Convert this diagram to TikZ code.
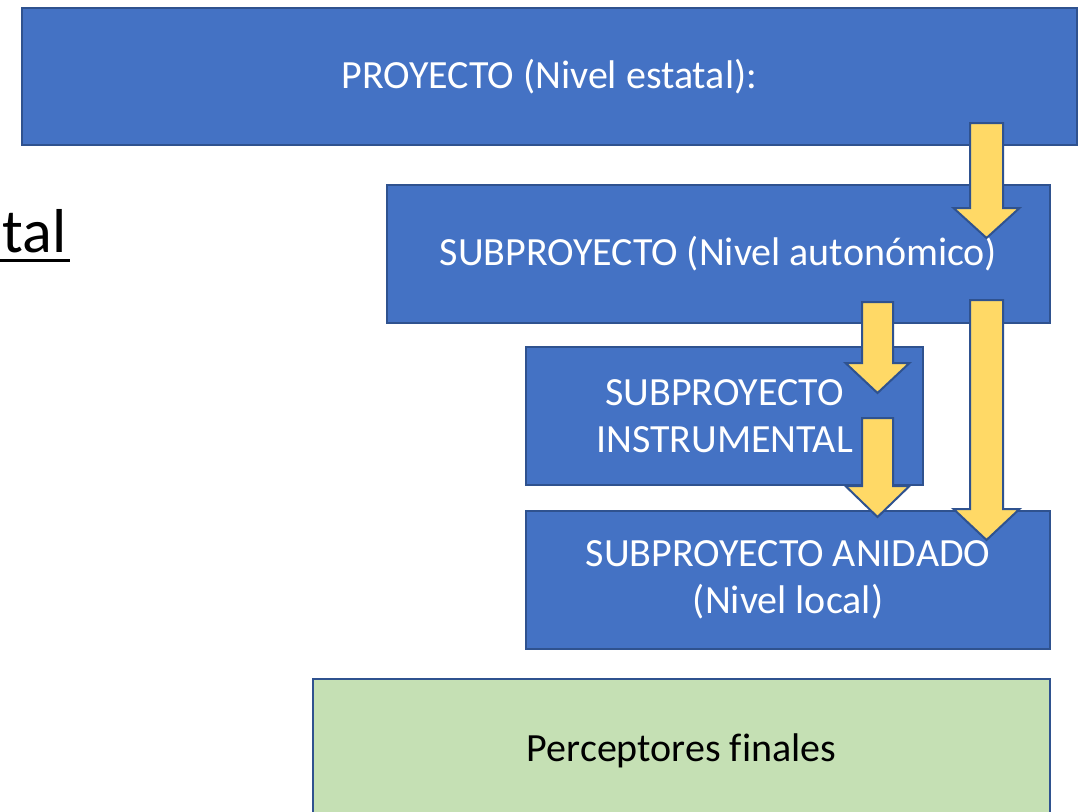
\documentclass[tikz,border=0pt]{standalone}
\usepackage{fontspec}
\setmainfont[Ligatures=NoCommon]{Carlito}
\definecolor{boxblue}{HTML}{4472C4}
\definecolor{edgeblue}{HTML}{2F528F}
\definecolor{arrowyellow}{HTML}{FFD966}
\definecolor{boxgreen}{HTML}{C5E0B4}
\newcommand\blockarrow[6]{%
  \draw[arrowshape] (#1-#5,#2) -- (#1+#5,#2) -- (#1+#5,#3) -- (#1+#6,#3) -- (#1,#4) -- (#1-#6,#3) -- (#1-#5,#3) -- cycle;}
\begin{document}
\begin{tikzpicture}[x=1pt,y=-1pt,
  bluebox/.style={draw=edgeblue, line width=2pt, fill=boxblue, text=white, inner sep=0pt, align=center,
    font=\fontsize{40}{47}\selectfont},
  greenbox/.style={draw=edgeblue, line width=2pt, fill=boxgreen, text=black, inner sep=0pt, align=center,
    font=\fontsize{40}{47}\selectfont},
  arrowshape/.style={draw=edgeblue, line width=2pt, fill=arrowyellow, line join=miter}]
\clip (0,0) rectangle (1089,811);
\useasboundingbox (0,0) rectangle (1089,811);
\fill[white] (0,0) rectangle (1089,811);
% boxes
\node[bluebox, minimum width=1055pt, minimum height=137pt] (p) at (549.5,76.5) {PROYECTO (Nivel estatal):};
\node[bluebox, minimum width=663pt, minimum height=138pt] (sa) at (718.5,253.5) {SUBPROYECTO (Nivel autonómico)};
\node[bluebox, minimum width=397pt, minimum height=138pt] (si) at (724.5,416) {SUBPROYECTO\\INSTRUMENTAL};
\node[bluebox, minimum width=524pt, minimum height=138pt] (sn) at (788,580) {SUBPROYECTO ANIDADO\\(Nivel local)};
\node[greenbox, minimum width=737pt, minimum height=143pt] (pf) at (681.5,750.5) {Perceptores finales};
% left cut-off text
\node[anchor=base east, inner sep=0pt, font=\fontsize{62}{74}\selectfont] (tal) at (67,252) {tal};
\draw[line width=3pt] (0,260) -- (70,260);
% block arrows
\blockarrow{986.5}{123}{208}{238}{16.5}{33}
\blockarrow{877.5}{302}{363}{393}{15.5}{32}
\blockarrow{877.5}{418}{486}{517}{15.5}{32}
\blockarrow{986.5}{300}{509}{540}{16.5}{33}
\end{tikzpicture}
\end{document}
